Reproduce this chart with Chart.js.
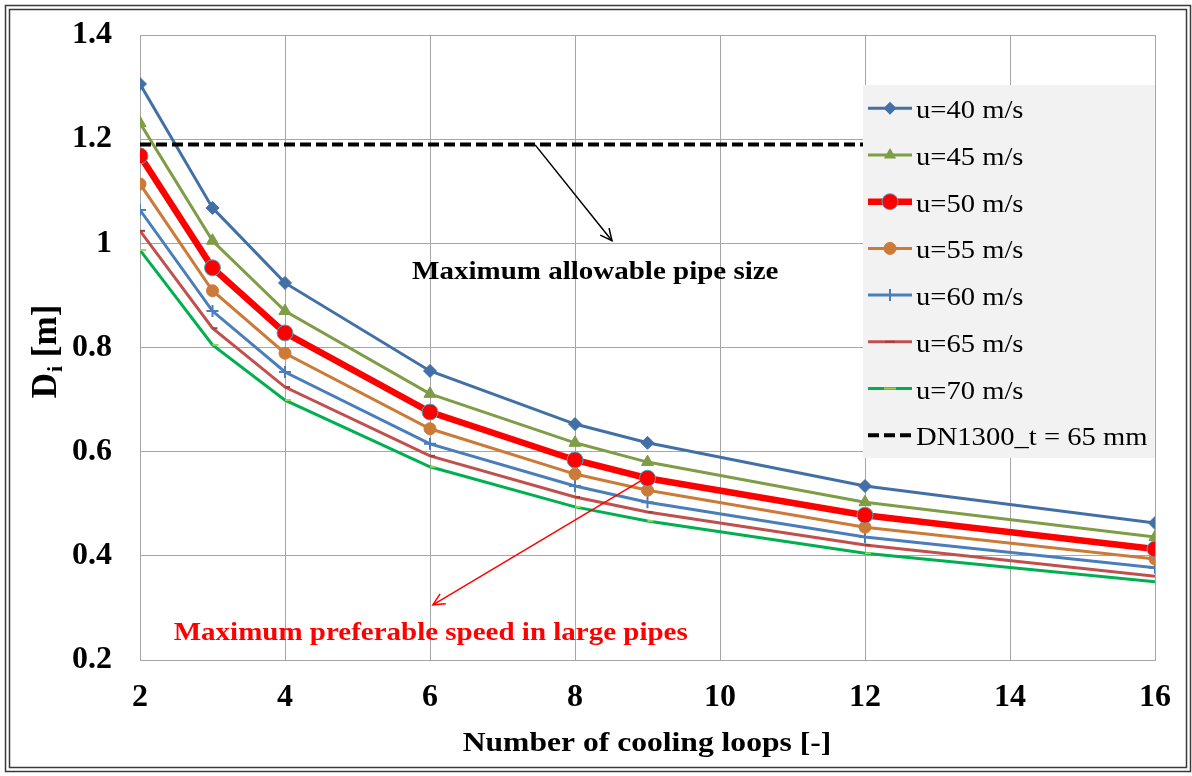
<!DOCTYPE html>
<html>
<head>
<meta charset="utf-8">
<script src="https://cdn.jsdelivr.net/npm/chart.js@4/dist/chart.umd.min.js"></script>
<style>
  html, body { margin: 0; padding: 0; background: #ffffff; }
  #wrap { width: 1192px; height: 776px; position: relative; }
  canvas { display: block; }
</style>
</head>
<body>
<div id="wrap"><canvas id="c" width="1192" height="776"></canvas></div>
<script>
// ---- data ----
const loops = [2, 3, 4, 6, 8, 9, 12, 16];
const u40 = [1.306, 1.068, 0.924, 0.755, 0.653, 0.617, 0.534, 0.463];
const u45 = [1.231, 1.005, 0.870, 0.711, 0.617, 0.580, 0.503, 0.436];
const u50 = [1.168, 0.953, 0.828, 0.676, 0.584, 0.549, 0.478, 0.413];
const u55 = [1.114, 0.909, 0.789, 0.644, 0.557, 0.526, 0.455, 0.394];
const u60 = [1.064, 0.870, 0.753, 0.615, 0.534, 0.503, 0.436, 0.377];
const u65 = [1.024, 0.837, 0.724, 0.592, 0.513, 0.484, 0.421, 0.361];
const u70 = [0.987, 0.805, 0.699, 0.571, 0.494, 0.467, 0.405, 0.350];
const dnLimitX = [2, 16];
const dnLimit = [1.19, 1.19];
const seriesLabels = ['u=40 m/s', 'u=45 m/s', 'u=50 m/s', 'u=55 m/s', 'u=60 m/s', 'u=65 m/s', 'u=70 m/s', 'DN1300_t = 65 mm'];
const xTitle = 'Number of cooling loops [-]';
const noteAllowable = 'Maximum allowable pipe size';
const notePreferable = 'Maximum preferable speed in large pipes';

const SERIF = '"Liberation Serif", "Times New Roman", serif';

function pts(xs, ys) { return xs.map((x, i) => ({ x: x, y: ys[i] })); }

const styles = [
  { color: '#4270A6', width: 3, marker: 'rectRot', r: 6.5, fill: '#4270A6', stroke: '#4270A6' },
  { color: '#7F9C47', width: 3, marker: 'triangle', r: 7, fill: '#7F9C47', stroke: '#7F9C47' },
  { color: '#FF0000', width: 6.5, marker: 'circle', r: 8, fill: '#FF0000', stroke: '#4BACC6' },
  { color: '#CC7A38', width: 3, marker: 'circle', r: 6, fill: '#CC7A38', stroke: '#CC7A38' },
  { color: '#4A7EBB', width: 3, marker: 'cross', r: 6, fill: '#4A7EBB', stroke: '#4A7EBB' },
  { color: '#C0504D', width: 3, marker: 'dash', r: 5, fill: '#A0403D', stroke: '#A0403D' },
  { color: '#00B050', width: 3, marker: 'dash', r: 6, fill: '#9BD050', stroke: '#9BD050' }
];
const seriesValues = [u40, u45, u50, u55, u60, u65, u70];

const datasets = seriesValues.map((vals, i) => ({
  label: seriesLabels[i],
  data: pts(loops, vals),
  borderColor: styles[i].color,
  backgroundColor: styles[i].fill,
  borderWidth: styles[i].width,
  pointStyle: styles[i].marker,
  pointRadius: styles[i].r,
  pointHoverRadius: styles[i].r,
  pointBackgroundColor: styles[i].fill,
  pointBorderColor: styles[i].stroke,
  pointBorderWidth: styles[i].marker === 'cross' || styles[i].marker === 'dash' ? 2 : 1,
  tension: 0,
  order: i === 2 ? 0 : 1
}));
datasets.push({
  label: seriesLabels[7],
  data: pts(dnLimitX, dnLimit),
  borderColor: '#000000',
  borderWidth: 4,
  borderDash: [11, 5],
  pointRadius: 0,
  tension: 0,
  order: -1
});

// annotation anchors in data coordinates
const arrows = [
  { from: [7.45, 1.189], to: [8.51, 1.005], color: '#000000' },
  { from: [8.97, 0.549], to: [6.04, 0.306], color: '#FF0000' }
];
const notes = [
  { text: noteAllowable, at: [8.28, 0.949], color: '#000000' },
  { text: notePreferable, at: [6.01, 0.256], color: '#FF0000' }
];

function drawMarker(ctx, st, x, y) {
  const r = st.r;
  ctx.save();
  ctx.fillStyle = st.fill;
  ctx.strokeStyle = st.stroke;
  ctx.setLineDash([]);
  ctx.beginPath();
  if (st.marker === 'rectRot') {
    ctx.moveTo(x, y - r); ctx.lineTo(x + r, y); ctx.lineTo(x, y + r); ctx.lineTo(x - r, y); ctx.closePath();
    ctx.fill();
  } else if (st.marker === 'triangle') {
    ctx.moveTo(x, y - r); ctx.lineTo(x + r * 0.87, y + r * 0.5); ctx.lineTo(x - r * 0.87, y + r * 0.5); ctx.closePath();
    ctx.fill();
  } else if (st.marker === 'circle') {
    ctx.arc(x, y, r, 0, Math.PI * 2);
    ctx.fill(); ctx.lineWidth = 1; ctx.stroke();
  } else if (st.marker === 'cross') {
    ctx.lineWidth = 2;
    ctx.moveTo(x - r, y); ctx.lineTo(x + r, y); ctx.moveTo(x, y - r); ctx.lineTo(x, y + r);
    ctx.stroke();
  } else if (st.marker === 'dash') {
    ctx.lineWidth = 2;
    ctx.moveTo(x - r, y); ctx.lineTo(x + r, y);
    ctx.stroke();
  }
  ctx.restore();
}

function arrow(ctx, x1, y1, x2, y2, color) {
  ctx.save();
  ctx.strokeStyle = color;
  ctx.lineWidth = 1.5;
  ctx.setLineDash([]);
  ctx.beginPath(); ctx.moveTo(x1, y1); ctx.lineTo(x2, y2); ctx.stroke();
  const a = Math.atan2(y2 - y1, x2 - x1);
  const L = 13, w = 0.45;
  ctx.beginPath();
  ctx.moveTo(x2 - L * Math.cos(a - w), y2 - L * Math.sin(a - w));
  ctx.lineTo(x2, y2);
  ctx.lineTo(x2 - L * Math.cos(a + w), y2 - L * Math.sin(a + w));
  ctx.stroke();
  ctx.restore();
}

function stretchedText(ctx, text, x, y, font, sx, align) {
  ctx.save();
  ctx.font = font;
  const w = ctx.measureText(text).width * sx;
  let x0 = x;
  if (align === 'center') x0 = x - w / 2;
  ctx.translate(x0, y);
  ctx.scale(sx, 1);
  ctx.textAlign = 'left';
  ctx.textBaseline = 'alphabetic';
  ctx.fillText(text, 0, 0);
  ctx.restore();
}

const deco = {
  id: 'deco',
  beforeDraw(chart) {
    const ctx = chart.ctx;
    ctx.save();
    ctx.fillStyle = '#ffffff';
    ctx.fillRect(0, 0, chart.width, chart.height);
    ctx.restore();
  },
  afterDatasetsDraw(chart) {
    const ctx = chart.ctx;
    const xs = chart.scales.x, ys = chart.scales.y;
    // annotations
    arrows.forEach(a => arrow(ctx, xs.getPixelForValue(a.from[0]), ys.getPixelForValue(a.from[1]),
                                  xs.getPixelForValue(a.to[0]), ys.getPixelForValue(a.to[1]), a.color));
    notes.forEach(n => {
      ctx.save();
      ctx.fillStyle = n.color;
      stretchedText(ctx, n.text, xs.getPixelForValue(n.at[0]), ys.getPixelForValue(n.at[1]) + 9,
                    'bold 26px ' + SERIF, 1.115, 'center');
      ctx.restore();
    });
    // legend
    const lx = 863, ly = 85, lw = 292, lh = 373;
    ctx.save();
    ctx.fillStyle = '#f2f2f2';
    ctx.fillRect(lx, ly, lw, lh);
    const step = 46.7;
    for (let i = 0; i < 8; i++) {
      const y = 108.3 + i * step;
      ctx.save();
      if (i < 7) {
        ctx.strokeStyle = styles[i].color;
        ctx.lineWidth = styles[i].width;
        ctx.setLineDash([]);
      } else {
        ctx.strokeStyle = '#000000';
        ctx.lineWidth = 4;
        ctx.setLineDash([11, 5]);
      }
      ctx.beginPath(); ctx.moveTo(868, y); ctx.lineTo(912, y); ctx.stroke();
      ctx.restore();
      if (i < 7) drawMarker(ctx, styles[i], 890, y);
      ctx.fillStyle = '#000000';
      stretchedText(ctx, seriesLabels[i], 916, y + 10, '26px ' + SERIF, 1.1, 'left');
    }
    ctx.restore();
  },
  afterDraw(chart) {
    const ctx = chart.ctx;
    // outer double frame
    ctx.save();
    ctx.strokeStyle = '#3a3a3a';
    ctx.lineWidth = 1.5;
    ctx.strokeRect(5.5, 5.5, 1185, 766);
    ctx.strokeRect(9.5, 9.5, 1177, 758);
    ctx.restore();
    // x title
    ctx.save();
    ctx.fillStyle = '#000000';
    stretchedText(ctx, xTitle, 647, 751, 'bold 27px ' + SERIF, 1.17, 'center');
    ctx.restore();
    // y title: D with subscript i, then [m]
    ctx.save();
    ctx.translate(56, 352);
    ctx.rotate(-Math.PI / 2);
    ctx.fillStyle = '#000000';
    const fBig = 'bold 35px ' + SERIF, fSub = 'bold 22px ' + SERIF;
    ctx.font = fBig; const wD = ctx.measureText('D').width;
    ctx.font = fSub; const wi = ctx.measureText('i').width;
    ctx.font = fBig; const wm = ctx.measureText(' [m]').width;
    const tot = wD + wi + wm;
    let x0 = -tot / 2;
    ctx.textBaseline = 'alphabetic';
    ctx.font = fBig; ctx.fillText('D', x0, 0);
    ctx.font = fSub; ctx.fillText('i', x0 + wD + 1, 6);
    ctx.font = fBig; ctx.fillText(' [m]', x0 + wD + wi + 1, 0);
    ctx.restore();
  }
};

const gridColor = '#a6a6a6';
new Chart(document.getElementById('c'), {
  type: 'line',
  data: { datasets: datasets },
  options: {
    responsive: false,
    animation: false,
    devicePixelRatio: 1,
    layout: { padding: { top: 35, right: 37, left: 0, bottom: 0 } },
    plugins: { legend: { display: false }, tooltip: { enabled: false } },
    scales: {
      x: {
        type: 'linear', min: 2, max: 16,
        ticks: { stepSize: 2, padding: 19, color: '#000000', font: { family: SERIF, size: 32, weight: 'bold' } },
        grid: { color: gridColor, lineWidth: 1, drawTicks: false },
        border: { display: true, color: gridColor, width: 1 },
        afterFit(scale) { scale.height = 116; scale.paddingLeft = 0; scale.paddingRight = 0; }
      },
      y: {
        type: 'linear', min: 0.2, max: 1.4,
        ticks: {
          stepSize: 0.2, padding: 28, color: '#000000',
          font: { family: SERIF, size: 32, weight: 'bold' },
          callback: v => String(parseFloat(Number(v).toFixed(1)))
        },
        grid: { color: gridColor, lineWidth: 1, drawTicks: false },
        border: { display: true, color: gridColor, width: 1 },
        afterFit(scale) { scale.width = 140; scale.paddingTop = 0; scale.paddingBottom = 0; }
      }
    }
  },
  plugins: [deco]
});
</script>
</body>
</html>
